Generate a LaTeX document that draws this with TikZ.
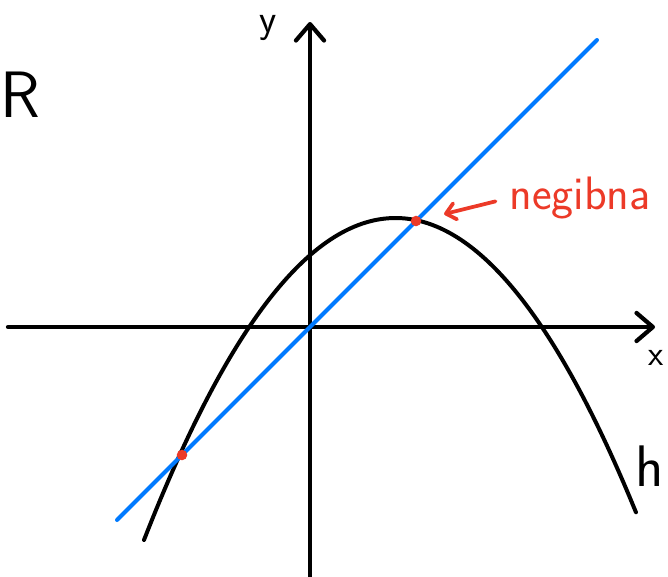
\documentclass[tikz,border=0pt]{standalone}
\usetikzlibrary{arrows.meta,positioning}
\definecolor{sky}{RGB}{0,122,255}
\definecolor{flame}{RGB}{236,58,40}
\definecolor{ink}{RGB}{0,0,0}
\tikzset{
  axis/.style={-{Straight Barb[length=14pt,width=24pt,round]},line width=3.6pt,line cap=round,draw=ink},
  curve/.style={line width=3.4pt,line cap=round,draw=#1},
  curve/.default=ink,
  meet/.style={circle,fill=flame,inner sep=0pt,minimum size=9pt},
  tag/.style={font=\sffamily\fontsize{#1}{#1}\selectfont,inner sep=0pt},
  pointer/.style={-{Straight Barb[length=8pt,width=14pt,round]},line width=3.2pt,line cap=round,draw=flame},
}
\begin{document}
\begin{tikzpicture}[x=0.03cm,y=-0.03cm]
  \useasboundingbox (0,0) rectangle (668,576);
  % axes
  \coordinate (xl) at (8,327);
  \coordinate (xr) at (655,327);
  \coordinate (yb) at (310,580);
  \coordinate (yt) at (310,22);
  \draw[axis] (xl) -- (xr);
  \draw[axis] (yb) -- (yt);
  \node[tag=34] (ylab) at (268,28) {y};
  \node[tag=30] (xlab) at (656,358) {x};
  \node[tag=56] (rlab) at (20,95) {R};
  \node[tag=50] (hlab) at (650,466) {h};
  % graphs
  \draw[curve] plot[domain=-2.515:2.405,samples=80,smooth] ({395.5+100*\x},{218+50.9*\x*\x});
  \coordinate (ls) at (117,520);
  \coordinate (le) at (597,40);
  \draw[curve=sky] (ls) -- (le);
  % intersections
  \node[meet] (P) at (416,221) {};
  \node[meet] (Q) at (182,455) {};
  \node[tag=40,text=flame] (lbl) at (580,198) {negibna};
  \draw[pointer,shorten <=12pt,shorten >=20pt] (lbl.west) -- (P);
\end{tikzpicture}
\end{document}
